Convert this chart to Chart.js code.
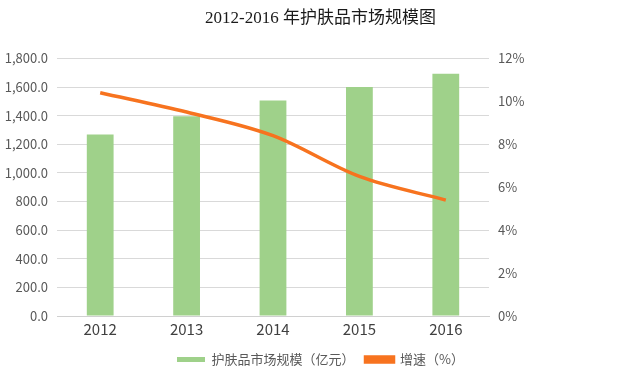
<!DOCTYPE html>
<html>
<head>
<meta charset="utf-8">
<script src="https://cdn.jsdelivr.net/npm/chart.js@4/dist/chart.umd.min.js"></script>
<style>
  html, body { margin: 0; padding: 0; background: #fff; }
</style>
</head>
<body>
<canvas id="chart" width="641" height="376"></canvas>
<script>
// 数据
const years = ["2012", "2013", "2014", "2015", "2016"];
const marketSize = [1268, 1395, 1505, 1601, 1692]; // 亿元
const growthRate = [10.4, 9.5, 8.4, 6.5, 5.4];      // %

const tickFont = { family: "'Liberation Sans Narrow', 'Noto Sans CJK SC', sans-serif", size: 13 };
const grey = "#595959";

new Chart(document.getElementById("chart").getContext("2d"), {
  type: "bar",
  data: {
    labels: years,
    datasets: [
      {
        type: "line",
        label: "增速（%）",
        data: growthRate,
        yAxisID: "y1",
        borderColor: "#f7731f",
        backgroundColor: "#f7731f",
        borderWidth: 3.5,
        pointRadius: 0,
        cubicInterpolationMode: "monotone",
        order: 0
      },
      {
        label: "护肤品市场规模（亿元）",
        data: marketSize,
        yAxisID: "y",
        backgroundColor: "#9fd18a",
        barPercentage: 0.62,
        categoryPercentage: 0.5,
        order: 1
      }
    ]
  },
  options: {
    responsive: false,
    animation: false,
    layout: { padding: { left: 0, right: 0, top: 0, bottom: 0 } },
    plugins: {
      title: {
        display: true,
        text: "2012-2016 年护肤品市场规模图",
        color: "#1a1a1a",
        font: { family: "'Liberation Serif', 'Noto Sans CJK SC', serif", size: 17, weight: "normal" },
        padding: { top: 8, bottom: 30 }
      },
      legend: {
        position: "bottom",
        reverse: true,
        labels: {
          color: grey,
          font: { family: "'Noto Sans CJK SC', sans-serif", size: 13 },
          boxWidth: 28,
          boxHeight: 5,
          padding: 11
        }
      },
      tooltip: { enabled: false }
    },
    scales: {
      x: {
        grid: { display: false, drawTicks: false },
        border: { color: "#d0d0d0" },
        ticks: { color: "#404040", font: { family: tickFont.family, size: 15 }, padding: 4 }
      },
      y: {
        position: "left",
        min: 0,
        max: 1800,
        grid: { color: "#d9d9d9", drawTicks: false },
        border: { display: false },
        ticks: {
          stepSize: 200,
          color: grey,
          font: tickFont,
          padding: 9,
          callback: v => v.toLocaleString("en-US", { minimumFractionDigits: 1, maximumFractionDigits: 1 })
        },
        afterFit: s => { s.width = 57; }
      },
      y1: {
        position: "right",
        min: 0,
        max: 12,
        grid: { display: false, drawTicks: false },
        border: { display: false },
        ticks: {
          stepSize: 2,
          color: grey,
          font: tickFont,
          padding: 9,
          callback: v => v + "%"
        },
        afterFit: s => { s.width = 152; }
      }
    }
  }
});
</script>
</body>
</html>
